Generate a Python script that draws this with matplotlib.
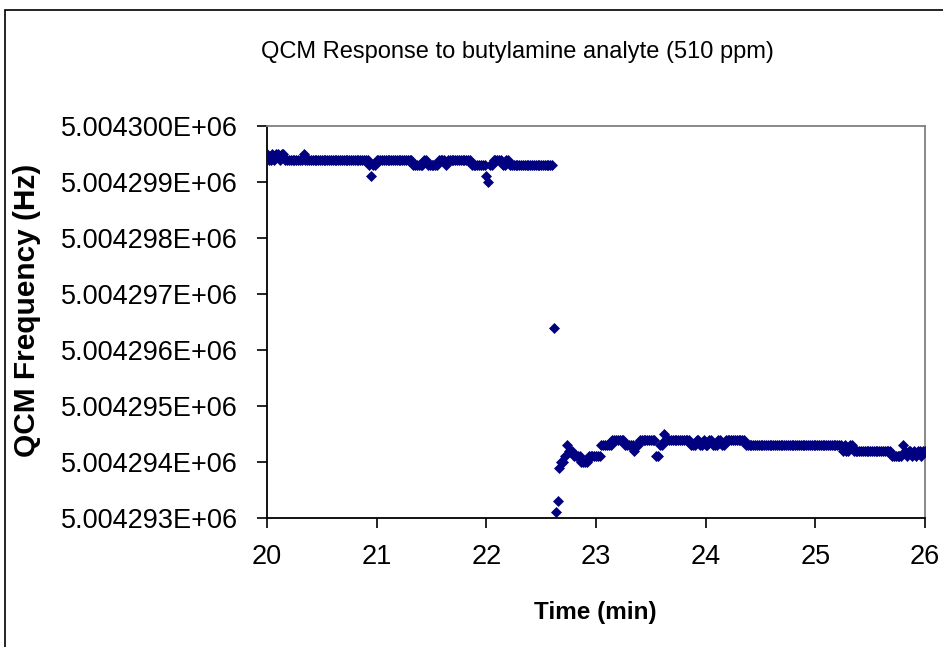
import matplotlib
matplotlib.use("Agg")
import matplotlib.pyplot as plt
from matplotlib.ticker import FuncFormatter, MultipleLocator
from matplotlib.patches import Rectangle
from matplotlib import font_manager
import numpy as np

# Frequency readings (Hz above 5.004290E+06) as runs of (value, count), one sample per second from t = 20 min
runs_upper = [
    (9.5, 1), (9.4, 2), (9.5, 1), (9.4, 1), (9.5, 2), (9.4, 1), (9.5, 2), (9.4, 10),
    (9.5, 1), (9.4, 35), (9.3, 1), (9.1, 1), (9.3, 2), (9.4, 20), (9.3, 6), (9.4, 2),
    (9.3, 6), (9.4, 4), (9.3, 1), (9.4, 13), (9.3, 8), (9.1, 1), (9.0, 1), (9.3, 2),
    (9.4, 5), (9.3, 2), (9.4, 2), (9.3, 24),
]
runs_transition = [
    (6.4, 1), (3.1, 1), (3.3, 1), (3.9, 1), (4.0, 2), (4.1, 1), (4.3, 1), (4.2, 3),
    (4.1, 4), (4.0, 4), (4.1, 7), (4.3, 6), (4.4, 7), (4.3, 5), (4.2, 1), (4.3, 2),
    (4.4, 9), (4.1, 2), (4.3, 2), (4.5, 1), (4.4, 14),
    (4.3, 3), (4.4, 2), (4.3, 2), (4.4, 1), (4.3, 2), (4.4, 2), (4.3, 3), (4.4, 2), (4.3, 2),
    (4.4, 11), (4.3, 53),
    (4.2, 1), (4.3, 1), (4.2, 2), (4.3, 2), (4.2, 1),
    (4.2, 20), (4.1, 6), (4.3, 1), (4.2, 1),
    (4.1, 1), (4.2, 2), (4.1, 1), (4.2, 1), (4.1, 1), (4.2, 2), (4.1, 1), (4.2, 2),
]
base_freq = 5004290.0
t_start = 20.0
sample_min = 1.0 / 60.0

x_ticks = [20, 21, 22, 23, 24, 25, 26]
title = "QCM Response to butylamine analyte (510 ppm)"
xlabel = "Time (min)"
ylabel = "QCM Frequency (Hz)"

runs = runs_upper + runs_transition
freq = np.concatenate([np.full(c, v) for v, c in runs]) + base_freq
time = t_start + np.arange(len(freq)) * sample_min

plt.rcParams['font.family'] = ['Liberation Sans', 'DejaVu Sans']

installed = {f.name for f in font_manager.fontManager.ttflist}
if 'Liberation Sans Narrow' in installed:
    title_font = ['Liberation Sans Narrow', 'Liberation Sans']
    title_size = 20
else:
    title_font = ['Liberation Sans']
    title_size = 17

fig = plt.figure(figsize=(9.43, 6.47), dpi=100)
fig.patch.set_facecolor('white')
# outer chart border (cropped at right/bottom)
fig.add_artist(Rectangle((5 / 943, -0.1), 1.2, 0.1 + 637 / 647, transform=fig.transFigure,
                         fill=False, edgecolor='black', linewidth=1.2))

ax = fig.add_axes([267 / 943, 1 - 518 / 647, (925 - 267) / 943, (518 - 126) / 647])
ax.scatter(time, freq, marker='D', s=5.6 ** 2, color='#000080', linewidths=0, zorder=3)

ax.set_xlim(20, 26)
ax.set_ylim(5004293.0, 5004300.0)
ax.set_xticks(x_ticks)
ax.yaxis.set_major_locator(MultipleLocator(1.0))
ax.yaxis.set_major_formatter(FuncFormatter(lambda v, p: f"{v:.6E}"))

for s in ['left', 'bottom']:
    ax.spines[s].set_color('black')
    ax.spines[s].set_linewidth(1.3)
for s in ['top', 'right']:
    ax.spines[s].set_color('#808080')
    ax.spines[s].set_linewidth(1.3)

ax.tick_params(axis='both', direction='out', length=7, width=1.2, labelsize=19.5, colors='black')
ax.tick_params(axis='x', pad=12)
ax.tick_params(axis='y', pad=14)

fig.text(517 / 943, 1 - 52 / 647, title, ha='center', va='center', fontsize=title_size,
         family=title_font)
fig.text(595 / 943, 1 - 612 / 647, xlabel, ha='center', va='center', fontsize=17.5, fontweight='bold')
fig.text(27 / 943, 1 - 310 / 647, ylabel, ha='center', va='center', rotation=90,
         fontsize=21.5, fontweight='bold')

fig.savefig('out.png', dpi=100, facecolor='white')
